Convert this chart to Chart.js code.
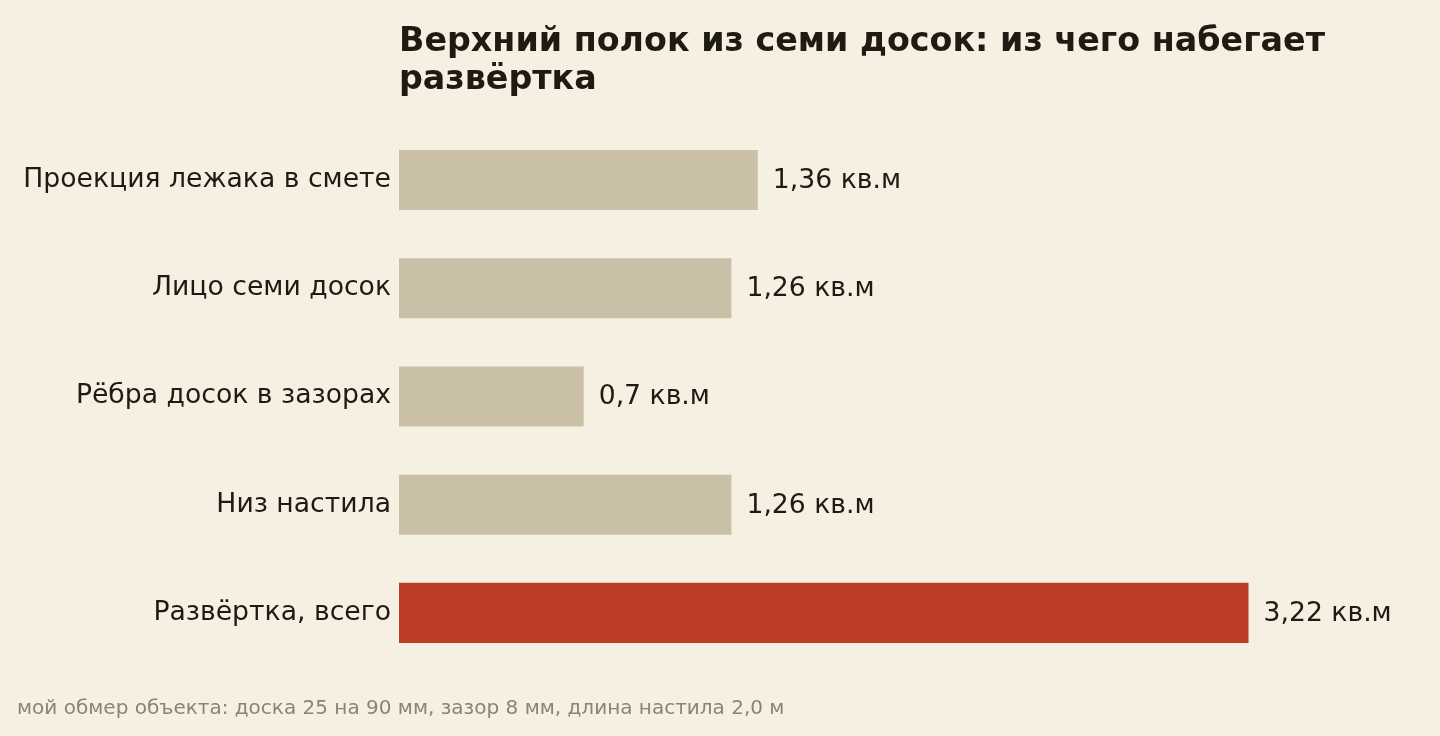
<!DOCTYPE html>
<html lang="ru">
<head>
<meta charset="utf-8">
<title>Верхний полок из семи досок</title>
<script src="https://cdn.jsdelivr.net/npm/chart.js@4/dist/chart.umd.min.js"></script>
<style>
    html, body { margin: 0; padding: 0; background: #f6f0e3; }
    #wrap { width: 1440px; height: 736px; }
</style>
</head>
<body>
<div id="wrap"><canvas id="chart" width="1440" height="736"></canvas></div>
<script>
// Данные
const categories = [
    'Проекция лежака в смете',
    'Лицо семи досок',
    'Рёбра досок в зазорах',
    'Низ настила',
    'Развёртка, всего'
];
const areaValues = [1.36, 1.26, 0.7, 1.26, 3.22];
const unitLabel = 'кв.м';
const titleLines = ['Верхний полок из семи досок: из чего набегает', 'развёртка'];
const footnote = 'мой обмер объекта: доска 25 на 90 мм, зазор 8 мм, длина настила 2,0 м';

const FONT = "'DejaVu Sans', sans-serif";
const INK = '#1f1a12';
const LABEL_SIZE = 26.67;

const barColors = areaValues.map((v, i) => i === areaValues.length - 1 ? '#bb3d27' : '#c9c0a7');

// Подписи значений справа от столбцов
const valueLabels = {
    id: 'valueLabels',
    afterDatasetsDraw(chart) {
        const ctx = chart.ctx;
        const meta = chart.getDatasetMeta(0);
        ctx.save();
        ctx.font = LABEL_SIZE + 'px ' + FONT;
        ctx.fillStyle = INK;
        ctx.textBaseline = 'middle';
        ctx.textAlign = 'left';
        meta.data.forEach((bar, i) => {
            const txt = String(areaValues[i]).replace('.', ',') + ' ' + unitLabel;
            ctx.fillText(txt, bar.x + 15, bar.y + 1);
        });
        ctx.restore();
    }
};

new Chart(document.getElementById('chart'), {
    type: 'bar',
    data: {
        labels: categories,
        datasets: [{
            data: areaValues,
            backgroundColor: barColors,
            borderWidth: 0,
            barPercentage: 0.555,
            categoryPercentage: 1
        }]
    },
    options: {
        indexAxis: 'y',
        responsive: false,
        animation: false,
        devicePixelRatio: 1,
        layout: { padding: { left: 17, right: 20, top: 0, bottom: 0 } },
        plugins: {
            legend: { display: false },
            tooltip: { enabled: false },
            title: {
                display: true,
                text: titleLines,
                align: 'start',
                fullSize: false,
                color: INK,
                font: { family: FONT, size: 33.33, weight: 'bold', lineHeight: 1.14 },
                padding: { top: 23, bottom: 27 }
            },
            subtitle: {
                display: true,
                text: footnote,
                position: 'bottom',
                align: 'start',
                color: '#8a8478',
                font: { family: FONT, size: 20, lineHeight: 1.2 },
                padding: { top: 30, bottom: 15 }
            }
        },
        scales: {
            x: {
                display: false,
                min: 0,
                max: 3.87
            },
            y: {
                grid: { display: false, drawTicks: false },
                border: { display: false },
                ticks: {
                    color: INK,
                    padding: 8,
                    font: { family: FONT, size: LABEL_SIZE }
                },
                afterFit(scale) { scale.width = 382; }
            }
        }
    },
    plugins: [valueLabels]
});
</script>
</body>
</html>
